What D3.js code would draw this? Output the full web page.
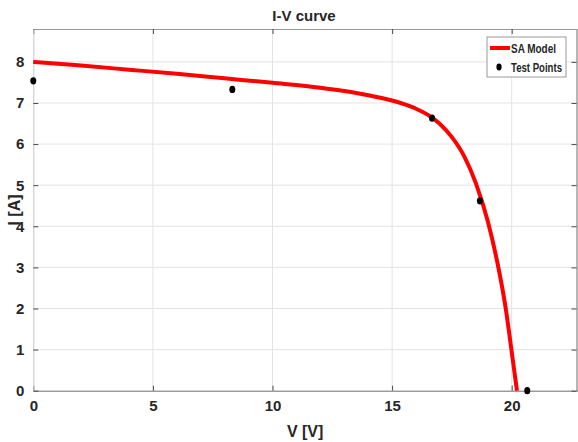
<!DOCTYPE html>
<html>
<head>
<meta charset="utf-8">
<script src="https://cdn.jsdelivr.net/npm/d3@7"></script>
<style>
  * {
    margin: 0;
    padding: 0;
    box-sizing: border-box;
  }
  body {
    background: #ffffff;
    width: 578px;
    height: 442px;
    overflow: hidden;
  }
  text {
    font-family: "Liberation Sans Narrow", "Arial Narrow", "Liberation Sans", Arial, sans-serif;
    font-weight: bold;
    fill: #262626;
  }
  .grid line {
    stroke: #e3e3e3;
    stroke-width: 1;
  }
</style>
</head>
<body>
<svg id="chart"></svg>
<script>
// SA model curve
const modelV = [0, 2, 4, 6, 8, 10, 12, 13, 14, 15, 15.5, 16, 16.5, 17, 17.5, 18, 18.5, 19, 19.4, 19.75, 20, 20.22];
const modelI = [8.0, 7.91, 7.81, 7.71, 7.6, 7.49, 7.37, 7.29, 7.19, 7.06, 6.97, 6.86, 6.71, 6.49, 6.17, 5.72, 5.05, 4.12, 3.12, 2.0, 0.95, 0];

// measured test points
const testV = [0, 8.32, 16.67, 18.67, 20.65];
const testI = [7.54, 7.33, 6.63, 4.62, 0];

const xTicks = [0, 5, 10, 15, 20];
const yTicks = [0, 1, 2, 3, 4, 5, 6, 7, 8];
const legendLabels = ["SA Model", "Test Points"];

const width = 578;
const height = 442;
const marginTop = 29;
const marginRight = 1;
const marginBottom = 51.3;
const marginLeft = 33.3;

const svg = d3
  .select("#chart")
  .attr("width", width)
  .attr("height", height)
  .attr("viewBox", [0, 0, width, height]);

const x = d3
  .scaleLinear()
  .domain([0, 22.73])
  .range([marginLeft, width - marginRight]);

const y = d3
  .scaleLinear()
  .domain([0, 8.8])
  .range([height - marginBottom, marginTop]);

// grid
const grid = svg.append("g").attr("class", "grid");

grid
  .selectAll("line.gx")
  .data(xTicks.slice(1))
  .join("line")
  .attr("class", "gx")
  .attr("x1", (d) => x(d))
  .attr("x2", (d) => x(d))
  .attr("y1", y.range()[0])
  .attr("y2", y.range()[1]);

grid
  .selectAll("line.gy")
  .data(yTicks.slice(1))
  .join("line")
  .attr("class", "gy")
  .attr("x1", x.range()[0])
  .attr("x2", x.range()[1])
  .attr("y1", (d) => y(d))
  .attr("y2", (d) => y(d));

// axes, ticks inside like matlab
const axisStyle = (g) => {
  g.selectAll(".domain").attr("stroke", "#6e6e6e");
  g.selectAll(".tick line").attr("stroke", "#4a4a4a");
  g.selectAll("text").attr("font-size", 15).attr("fill", "#262626");
};

svg
  .append("g")
  .attr("transform", `translate(0,${y.range()[0]})`)
  .call(d3.axisBottom(x).tickValues(xTicks).tickSize(-5).tickPadding(10).tickSizeOuter(0))
  .call(axisStyle);

svg
  .append("g")
  .attr("transform", `translate(0,${y.range()[1]})`)
  .call(d3.axisTop(x).tickValues(xTicks).tickSize(-5).tickSizeOuter(0).tickFormat(""))
  .call(axisStyle)
  .call((g) => g.select(".domain").attr("stroke", "#9a9a9a"));

svg
  .append("g")
  .attr("transform", `translate(${x.range()[0]},0)`)
  .call(d3.axisLeft(y).tickValues(yTicks).tickSize(-5).tickPadding(9).tickSizeOuter(0))
  .call(axisStyle)
  .call((g) => g.select(".domain").attr("stroke", "#c8c8c8"));

svg
  .append("g")
  .attr("transform", `translate(${x.range()[1] - 0.5},0)`)
  .call(d3.axisRight(y).tickValues(yTicks).tickSize(-5).tickSizeOuter(0).tickFormat(""))
  .call(axisStyle);

// model curve
const model = modelV.map((v, i) => ({ v, i: modelI[i] }));
svg
  .append("path")
  .datum(model)
  .attr("fill", "none")
  .attr("stroke", "#ff0000")
  .attr("stroke-width", 4)
  .attr("d", d3.line().x((d) => x(d.v)).y((d) => y(d.i)).curve(d3.curveMonotoneX));

// test points
const points = testV.map((v, i) => ({ v, i: testI[i] }));
svg
  .append("g")
  .selectAll("ellipse")
  .data(points)
  .join("ellipse")
  .attr("cx", (d) => x(d.v))
  .attr("cy", (d) => y(d.i))
  .attr("rx", 3)
  .attr("ry", 3.6)
  .attr("fill", "#000");

// title and labels
svg
  .append("text")
  .attr("x", 304)
  .attr("y", 21)
  .attr("text-anchor", "middle")
  .attr("font-size", 15)
  .text("I-V curve");

svg
  .append("text")
  .attr("x", (x.range()[0] + x.range()[1]) / 2)
  .attr("y", 437)
  .attr("text-anchor", "middle")
  .attr("font-size", 16)
  .text("V [V]");

svg
  .append("text")
  .attr("transform", "translate(20,210) rotate(-90)")
  .attr("text-anchor", "middle")
  .attr("font-size", 16)
  .text("I [A]");

// legend
const legend = svg.append("g").attr("transform", "translate(487,37)");
legend
  .append("rect")
  .attr("width", 79)
  .attr("height", 40)
  .attr("fill", "#fff")
  .attr("stroke", "#9a9a9a");

legend
  .append("line")
  .attr("x1", 3)
  .attr("x2", 23)
  .attr("y1", 11)
  .attr("y2", 11)
  .attr("stroke", "#ff0000")
  .attr("stroke-width", 4);

legend
  .append("ellipse")
  .attr("cx", 12)
  .attr("cy", 30)
  .attr("rx", 2.6)
  .attr("ry", 3.4)
  .attr("fill", "#000");

// squeeze the labels a bit, the original font is condensed
legend
  .selectAll("text.lab")
  .data(legendLabels)
  .join("text")
  .attr("class", "lab")
  .attr("x", 24)
  .attr("y", (d, i) => 15.5 + i * 19)
  .attr("font-size", 12.5)
  .attr("textLength", (d, i) => (i === 0 ? 45 : 51))
  .attr("lengthAdjust", "spacingAndGlyphs")
  .text((d) => d);
</script>
</body>
</html>
